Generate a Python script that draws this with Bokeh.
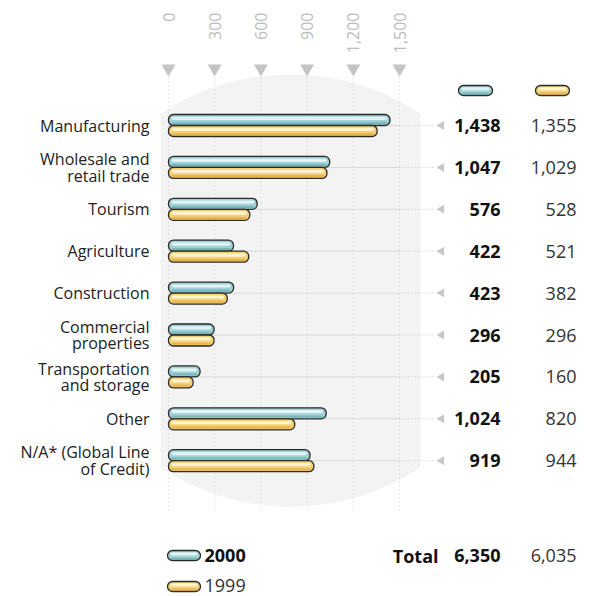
import numpy as np
from bokeh.plotting import figure
from bokeh.models import Range1d
from bokeh.embed import file_html
from bokeh.resources import INLINE
from bokeh.core.properties import value

# ---------------- data ----------------
categories = ["Manufacturing", "Wholesale and\nretail trade", "Tourism", "Agriculture",
              "Construction", "Commercial\nproperties", "Transportation\nand storage",
              "Other", "N/A* (Global Line\nof Credit)"]
values_2000 = [1438, 1047, 576, 422, 423, 296, 205, 1024, 919]
values_1999 = [1355, 1029, 528, 521, 382, 296, 160, 820, 944]
tick_values = [0, 300, 600, 900, 1200, 1500]
tick_labels = ["0", "300", "600", "900", "1,200", "1,500"]
series_names = ["2000", "1999"]
total_label = "Total"
total_2000 = "6,350"
total_1999 = "6,035"

# ---------------- layout ----------------
W, H = 594, 596
PX0 = 168.0            # canvas x of value 0
PPU = 231.0 / 1500.0   # pixels per unit
FONT = "Open Sans"

def X(px):
    return (px - PX0) / PPU

ROW0, ROWSTEP = 125.0, 41.9
row_y = [ROW0 + i * ROWSTEP for i in range(len(categories))]
BAR_H = 11

p = figure(width=W, height=H, output_backend="svg", toolbar_location=None,
           x_range=Range1d(X(0), X(W)), y_range=Range1d(H, 0),
           x_axis_type=None, y_axis_type=None, min_border=0)
p.outline_line_color = None
p.grid.visible = False
p.background_fill_color = "white"

# background barrel shape
cx, cy, a, b = 290.0, 290.0, 226.0, 216.0
xs_px = np.linspace(160, 420, 80)
top = cy - b * np.sqrt(1 - ((xs_px - cx) / a) ** 2)
bot = cy + b * np.sqrt(1 - ((xs_px - cx) / a) ** 2)
px_all = np.concatenate([xs_px, xs_px[::-1]])
py_all = np.concatenate([top, bot[::-1]])
p.patch([X(v) for v in px_all], list(py_all), fill_color="#f3f3f3", line_color=None)

# vertical dotted gridlines
p.segment(x0=tick_values, x1=tick_values, y0=[77] * len(tick_values), y1=[513] * len(tick_values),
          line_color="#cfcfcf", line_dash="1 3", line_width=1)
# tick markers & labels
p.scatter(x=tick_values, y=[68] * len(tick_values), marker="inverted_triangle", size=14,
          fill_color="#c4c4c4", line_color=None)
p.text(x=tick_values, y=[12] * len(tick_values), text=tick_labels, angle=np.pi / 2,
       text_align="right", text_baseline="middle", text_font=value(FONT),
       text_font_size="16px", text_color="#bcbcbc")

# row lines
n = len(categories)
p.segment(x0=[0] * n, x1=[1500] * n, y0=row_y, y1=row_y, line_color="#d8d8d8", line_width=1)
p.segment(x0=[1500] * n, x1=[X(433)] * n, y0=row_y, y1=row_y, line_color="#c4c4c4",
          line_width=1, line_dash="1 2")
p.scatter(x=[X(441)] * n, y=row_y, marker="triangle", angle=np.pi / 2, size=9,
          fill_color="#c8c8c8", line_color=None)

TEAL = ("#9ed0d4", "#e2f3f3", "#6eaeb4")
GOLD = ("#f5cf74", "#fdf3cf", "#e2ac45")

def pill(ys, lefts, rights, pal, h=BAR_H):
    rights = np.asarray(rights, dtype=float)
    lefts = np.asarray(lefts, dtype=float)
    ys = np.asarray(ys, dtype=float)
    p.hbar(y=ys, left=lefts, right=rights, height=h, fill_color=pal[0],
           line_color="#2a2a2a", line_width=1.3, border_radius=5)
    d = 3 / PPU
    p.hbar(y=ys + 3.2, left=lefts + d, right=rights - d, height=2, fill_color=pal[2],
           line_color=None, border_radius=1, fill_alpha=0.8)
    p.hbar(y=ys - 1.6, left=lefts + d, right=rights - d, height=3.2, fill_color=pal[1],
           line_color=None, border_radius=2)

ry = np.array(row_y)
pill(ry - BAR_H / 2, [0] * n, values_2000, TEAL)
pill(ry + BAR_H / 2, [0] * n, values_1999, GOLD)

# category labels
p.text(x=[X(149)] * n, y=row_y, text=categories, text_align="right", text_baseline="middle",
       text_font=value(FONT), text_font_size="16px", text_color="#222222",
       text_line_height=0.75)

# value columns
p.text(x=[X(500)] * n, y=row_y, text=[f"{v:,}" for v in values_2000], text_align="right",
       text_baseline="middle", text_font=value(FONT), text_font_size="18px",
       text_font_style="bold", text_color="#111111")
p.text(x=[X(576)] * n, y=row_y, text=[f"{v:,}" for v in values_1999], text_align="right",
       text_baseline="middle", text_font=value(FONT), text_font_size="18px",
       text_color="#333333")

# header legend pills
pill([90], [X(458)], [X(492)], TEAL, h=10)
pill([90], [X(535)], [X(569)], GOLD, h=10)

# bottom legend
pill([555], [X(167)], [X(200)], TEAL, h=10)
pill([586], [X(167)], [X(200)], GOLD, h=10)
p.text(x=[X(204)], y=[555], text=[series_names[0]], text_align="left", text_baseline="middle",
       text_font=value(FONT), text_font_size="18px", text_font_style="bold", text_color="#111111")
p.text(x=[X(204)], y=[585], text=[series_names[1]], text_align="left", text_baseline="middle",
       text_font=value(FONT), text_font_size="18px", text_color="#333333")

# totals
p.text(x=[X(438)], y=[555], text=[total_label], text_align="right", text_baseline="middle",
       text_font=value(FONT), text_font_size="18px", text_font_style="bold", text_color="#111111")
p.text(x=[X(500)], y=[555], text=[total_2000], text_align="right", text_baseline="middle",
       text_font=value(FONT), text_font_size="18px", text_font_style="bold", text_color="#111111")
p.text(x=[X(576)], y=[555], text=[total_1999], text_align="right", text_baseline="middle",
       text_font=value(FONT), text_font_size="18px", text_color="#333333")

open("out.html", "w").write(file_html(p, INLINE))
